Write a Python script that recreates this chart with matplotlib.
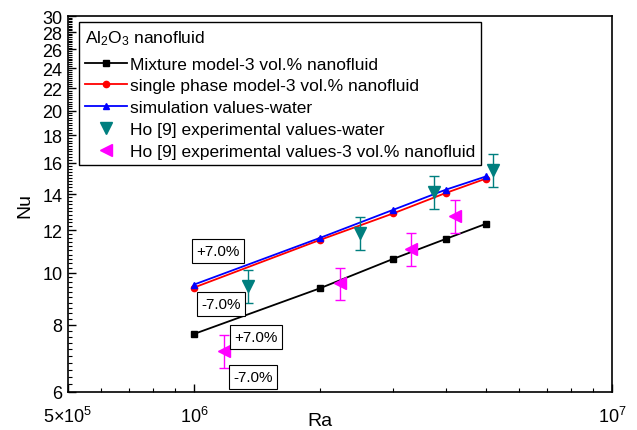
import matplotlib
matplotlib.use("Agg")
import matplotlib.pyplot as plt
from matplotlib.container import ErrorbarContainer
from matplotlib.ticker import FixedLocator, FixedFormatter, MultipleLocator, NullFormatter

plt.rcParams["font.family"] = ["Liberation Sans", "DejaVu Sans"]
plt.rcParams["mathtext.fontset"] = "custom"
plt.rcParams["mathtext.rm"] = "Liberation Sans"
plt.rcParams["mathtext.it"] = "Liberation Sans:italic"

# ── data ────────────────────────────────────────────────────────────
ra_sim = [1e6, 2e6, 3e6, 4e6, 5e6]
nu_mixture = [7.69, 9.35, 10.61, 11.55, 12.33]
nu_single = [9.38, 11.50, 12.89, 14.06, 14.96]
nu_water_sim = [9.50, 11.60, 13.09, 14.26, 15.10]

ra_exp_water = [1.35e6, 2.5e6, 3.76e6, 5.19e6]
nu_exp_water = [9.46, 11.85, 14.14, 15.54]
ra_exp_nf = [1.18e6, 2.24e6, 3.3e6, 4.21e6]
nu_exp_nf = [7.15, 9.55, 11.07, 12.76]
exp_error = 0.07

y_ticks = [6, 8, 10, 12, 14, 16, 18, 20, 22, 24, 26, 28, 30]
x_ticks = [5e5, 1e6, 1e7]
x_tick_labels = [r"$5{\times}10^{5}$", r"$10^{6}$", r"$10^{7}$"]

fig = plt.figure(figsize=(6.37, 4.31), dpi=100)
ax = fig.add_axes([68 / 637, 1 - 393 / 431, 544 / 637, 376 / 431])

ax.plot(ra_sim, nu_mixture, color="black", marker="s", markersize=4, lw=1.3,
        label="Mixture model-3 vol.% nanofluid")
ax.plot(ra_sim, nu_single, color="red", marker="o", markersize=4.5, lw=1.3,
        label="single phase model-3 vol.% nanofluid")
ax.plot(ra_sim, nu_water_sim, color="blue", marker="^", markersize=4.5, lw=1.3,
        label="simulation values-water")

err_w = [v * exp_error for v in nu_exp_water]
ax.errorbar(ra_exp_water, nu_exp_water, yerr=err_w, fmt="v", color="#007f7f",
            markersize=8.5, capsize=3.5, elinewidth=1, capthick=1,
            label="Ho [9] experimental values-water")
err_n = [v * exp_error for v in nu_exp_nf]
ax.errorbar(ra_exp_nf, nu_exp_nf, yerr=err_n, fmt="<", color="#ff00ff",
            markersize=8.5, capsize=3.5, elinewidth=1, capthick=1,
            label="Ho [9] experimental values-3 vol.% nanofluid")

ax.set_xscale("log")
ax.set_yscale("log")
ax.set_xlim(5e5, 1e7)
ax.set_ylim(6, 30)

ax.xaxis.set_major_locator(FixedLocator(x_ticks))
ax.xaxis.set_major_formatter(FixedFormatter(x_tick_labels))
ax.xaxis.set_minor_locator(FixedLocator([6e5, 7e5, 8e5, 9e5] + [k * 1e6 for k in range(2, 10)]))
ax.xaxis.set_minor_formatter(NullFormatter())
ax.yaxis.set_major_locator(FixedLocator(y_ticks))
ax.yaxis.set_major_formatter(FixedFormatter([str(v) for v in y_ticks]))
ax.yaxis.set_minor_locator(MultipleLocator(0.2))
ax.yaxis.set_minor_formatter(NullFormatter())

ax.tick_params(which="both", direction="in", top=False, right=False, labelsize=13)
ax.tick_params(which="major", length=6, width=1)
ax.tick_params(which="minor", length=3, width=0.8)
ax.tick_params(axis="y", pad=4)
ax.tick_params(axis="x", pad=10)
for sp in ax.spines.values():
    sp.set_linewidth(1.2)

ax.set_xlabel("Ra", fontsize=14)
ax.set_ylabel("Nu", fontsize=14)
ax.xaxis.set_label_coords((320 - 68) / 544, -0.052)
ax.yaxis.set_label_coords(-0.064, 0.5)

# legend: show only the marker for the errorbar series
handles, labels = ax.get_legend_handles_labels()
handles = [h[0] if isinstance(h, ErrorbarContainer) else h for h in handles]
leg = ax.legend(handles, labels, loc="upper left", bbox_to_anchor=(11 / 544, 1 - 6 / 376),
                borderaxespad=0, fontsize=12.5, title=r"Al$_2$O$_3$ nanofluid",
                title_fontsize=12.5, fancybox=False, edgecolor="black",
                handlelength=2.4, handletextpad=0.17, labelspacing=0.38,
                borderpad=0.35, framealpha=1)
leg._legend_box.align = "left"
leg._legend_box.sep = 7
leg.get_frame().set_linewidth(1)

box = dict(boxstyle="square,pad=0.3", fc="white", ec="black", lw=0.8)
for txt, xf, yf in [("+7.0%", 0.2757, 0.375), ("-7.0%", 0.2812, 0.234),
                    ("+7.0%", 0.3456, 0.1463), ("-7.0%", 0.340, 0.0399)]:
    ax.text(xf, yf, txt, transform=ax.transAxes, ha="center", va="center",
            fontsize=11, bbox=box)

fig.savefig("out.png", dpi=100)
